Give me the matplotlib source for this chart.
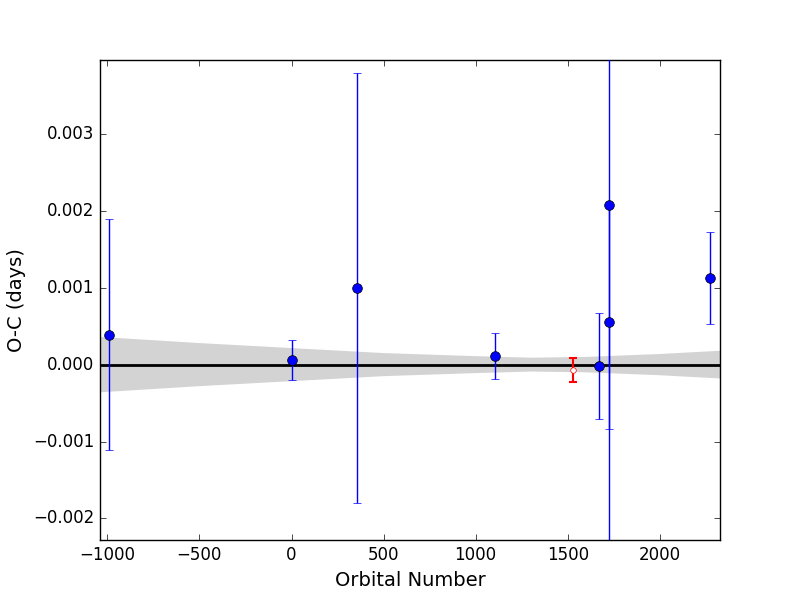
"""O-C diagram: timing residuals vs orbital number with linear-ephemeris band."""
import matplotlib

matplotlib.use("Agg")
import matplotlib.pyplot as plt
import numpy as np

# transit timing residuals (blue)
epoch = [-992, 5, 353, 1103, 1672, 1723, 1723, 2272]
oc = [0.000387, 0.000065, 0.000996, 0.000113, -0.00002, 0.00207, 0.00056, 0.00113]
oc_err_lo = [0.0015, 0.00026, 0.0028, 0.0003, 0.00069, 0.005, 0.0014, 0.0006]
oc_err_hi = [0.0015, 0.00026, 0.0028, 0.0003, 0.00069, 0.005, 0.0015, 0.0006]

# extra point (red, open)
epoch_red = [1531]
oc_red = [-0.00007]
oc_red_err = [0.00015]

# ephemeris uncertainty band half-width, sampled along the x axis
band_x = [-1040, -500, 0, 500, 1000, 1300, 1600, 2000, 2327]
band_half = [0.00036, 0.00028, 0.000215, 0.00015, 0.00011, 0.00009, 0.0001, 0.000138, 0.00018]

plt.style.use("classic")
fig, ax = plt.subplots(figsize=(8, 6), dpi=100)
fig.patch.set_facecolor("white")

bx = np.array(band_x)
bh = np.array(band_half)
ax.fill_between(bx, -bh, bh, color="lightgray", edgecolor="none", zorder=1)
ax.axhline(0.0, color="black", lw=2, zorder=2)

ax.errorbar(epoch, oc, yerr=[oc_err_lo, oc_err_hi], fmt="o", color="blue", mec="black",
            mew=0.5, ms=7, ecolor="blue", elinewidth=1, capsize=3, zorder=3)
ax.errorbar(epoch_red, oc_red, yerr=oc_red_err, fmt="o", color="red", mfc="white",
            mec="red", ms=4, ecolor="red", elinewidth=1.5, capthick=1.5, capsize=3,
            zorder=3)

ax.set_xlim(-1040, 2327)
ax.set_ylim(-0.00228, 0.00396)
ax.set_yticks([-0.002, -0.001, 0.0, 0.001, 0.002, 0.003])
ax.set_yticklabels(["\u22120.002", "\u22120.001", "0.000", "0.001", "0.002", "0.003"])
ax.set_xlabel("Orbital Number", fontsize=14)
ax.set_ylabel("O-C (days)", fontsize=14)

fig.savefig("out.png", dpi=100, facecolor="white")
